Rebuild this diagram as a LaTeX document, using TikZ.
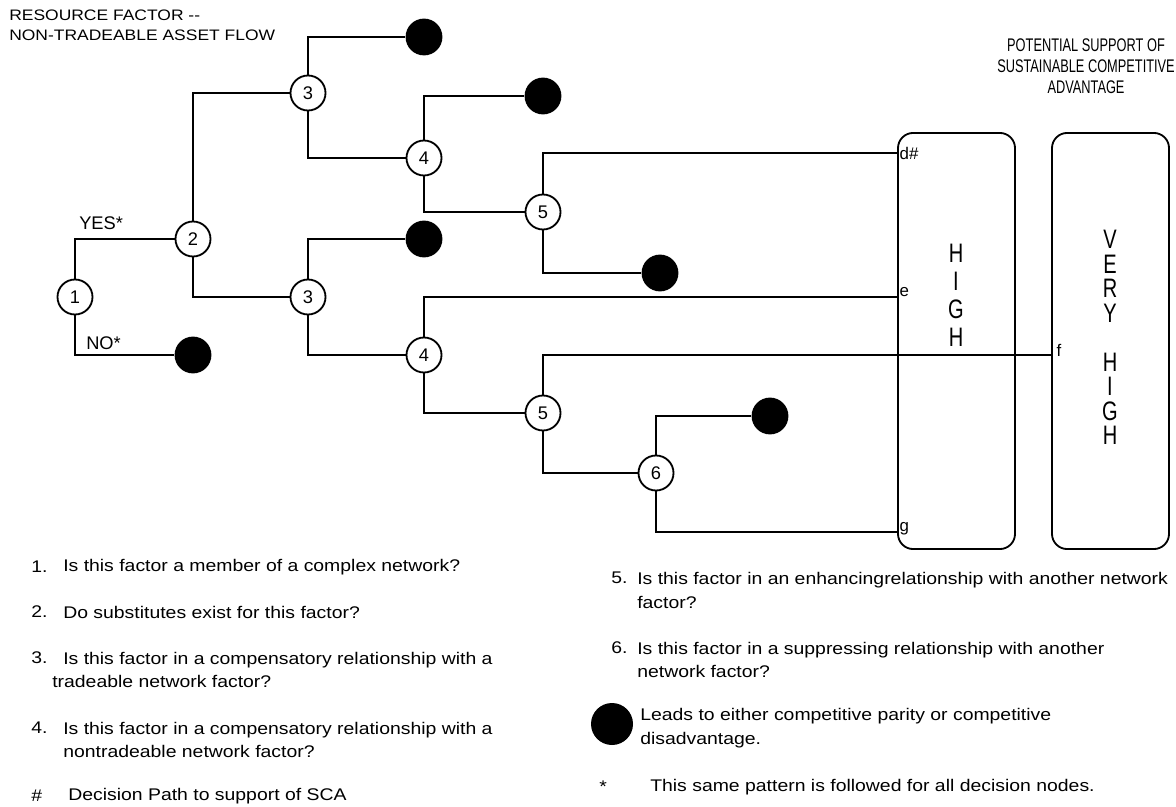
\documentclass[tikz,border=0pt]{standalone}
\usepackage{fontspec}
\setmainfont{Liberation Sans}
\newfontfamily\widefont[FakeStretch=1.15]{Liberation Sans}
\newfontfamily\narrowfont[FakeStretch=0.7]{Liberation Sans}
\newfontfamily\tallfont[FakeStretch=0.75]{Liberation Sans}

\tikzset{
	branch/.style={line width=1.3pt},
	qnode/.style={draw, circle, line width=1.3pt, fill=white, minimum size=0.875cm, inner sep=0pt, font=\fontsize{13}{13}\selectfont},
	endnode/.style={circle, fill=black, minimum size=0.92cm, inner sep=0pt},
	outbox/.style={draw, line width=1.3pt, rounded corners=0.38cm, minimum width=2.925cm, minimum height=10.4cm},
	tag/.style={anchor=west, inner sep=1pt, font=\fontsize{12}{12}\selectfont},
	qtext/.style={anchor=west, align=left, inner sep=0pt, font=\widefont\fontsize{12}{17}\selectfont},
}

\begin{document}
\begin{tikzpicture}[x=0.025cm, y=-0.025cm]
		\useasboundingbox (0,0) rectangle (1176,807);
		%%%%% START %%%%%
		
		\node[anchor=west, align=left, inner sep=0pt, font=\widefont\fontsize{10.8}{14.2}\selectfont] (title) at (9,25) {RESOURCE FACTOR --\\NON-TRADEABLE ASSET FLOW};
		\node[align=center, inner sep=0pt, font=\narrowfont\fontsize{13}{15}\selectfont] (header) at (1086,66) {POTENTIAL SUPPORT OF\\SUSTAINABLE COMPETITIVE\\ADVANTAGE};
		
		\node[outbox] (high) at (956.5,341) {};
		\node[outbox] (veryhigh) at (1110.5,341) {};
		\node[align=center, inner sep=0pt, font=\tallfont\fontsize{19}{19.9}\selectfont] (hightext) at (956,295) {H\\I\\G\\H};
		\node[align=center, inner sep=0pt, font=\tallfont\fontsize{19}{17.4}\selectfont] (veryhightext) at (1110,337.5) {V\\E\\R\\Y\\[0.6125cm]H\\I\\G\\H};
		
		\coordinate (pd) at (898,153);
		\coordinate (pe) at (898,297);
		\coordinate (pf) at (1052,355);
		\coordinate (pg) at (898,532);
		\node[tag] (dlab) at (pd) {d\#};
		\node[tag] (elab) at (898,292) {e};
		\node[tag] (flab) at (1055,350) {f};
		\node[tag] (glab) at (898,529) {g};
		
		\node[qnode] (n1) at (75,297) {1};
		\node[qnode] (n2) at (193,239) {2};
		\node[qnode] (n3a) at (308,93) {3};
		\node[qnode] (n3b) at (308,297) {3};
		\node[qnode] (n4a) at (424,158) {4};
		\node[qnode] (n4b) at (424,355) {4};
		\node[qnode] (n5a) at (543,212) {5};
		\node[qnode] (n5b) at (543,413) {5};
		\node[qnode] (n6) at (656,473) {6};
		
		\node[endnode] (x1) at (193,355) {};
		\node[endnode] (x3a) at (424,37) {};
		\node[endnode] (x3b) at (424,239) {};
		\node[endnode] (x4a) at (543,96) {};
		\node[endnode] (x5a) at (660,273) {};
		\node[endnode] (x6) at (770,416) {};
		
		\node[anchor=west, inner sep=0pt, font=\fontsize{13}{13}\selectfont] (yes) at (79,223) {YES*};
		\node[anchor=west, inner sep=0pt, font=\fontsize{13}{13}\selectfont] (no) at (86,343) {NO*};
		
		\draw[branch] (n1) |- (n2);
		\draw[branch] (n1) |- (x1);
		\draw[branch] (n2) |- (n3a);
		\draw[branch] (n2) |- (n3b);
		\draw[branch] (n3a) |- (x3a);
		\draw[branch] (n3a) |- (n4a);
		\draw[branch] (n3b) |- (x3b);
		\draw[branch] (n3b) |- (n4b);
		\draw[branch] (n4a) |- (x4a);
		\draw[branch] (n4a) |- (n5a);
		\draw[branch] (n4b) |- (pe);
		\draw[branch] (n4b) |- (n5b);
		\draw[branch] (n5a) |- (pd);
		\draw[branch] (n5a) |- (x5a);
		\draw[branch] (n5b) |- (pf);
		\draw[branch] (n5b) |- (n6);
		\draw[branch] (n6) |- (x6);
		\draw[branch] (n6) |- (pg);
		
		\node[qtext] (q1num) at (31,567) {1.};
		\node[qtext] (q1) at (63,567) {Is this factor a member of a complex network?};
		\node[qtext] (q2num) at (31,612) {2.};
		\node[qtext] (q2) at (63,612) {Do substitutes exist for this factor?};
		\node[qtext] (q3num) at (31,658) {3.};
		\node[qtext] (q3) at (52,670) {\hspace*{0.275cm}Is this factor in a compensatory relationship with a\\tradeable network factor?};
		\node[qtext] (q4num) at (31,728) {4.};
		\node[qtext] (q4) at (63,740) {Is this factor in a compensatory relationship with a\\nontradeable network factor?};
		\node[qtext] (hashmark) at (31,796) {\#};
		\node[qtext] (hashnote) at (68,796) {Decision Path to support of SCA};
		
		\node[qtext] (q5num) at (611,578) {5.};
		\node[qtext] (q5) at (637,590.5) {Is this factor in an enhancingrelationship with another network\\factor?};
		\node[qtext] (q6num) at (611,648) {6.};
		\node[qtext] (q6) at (637,660) {Is this factor in a suppressing relationship with another\\network factor?};
		\node[endnode, minimum size=1.05cm] (keydot) at (612,724) {};
		\node[qtext] (keynote) at (640,728) {Leads to either competitive parity or competitive\\disadvantage.};
		\node[qtext] (starmark) at (599,787) {*};
		\node[qtext] (starnote) at (650,787) {This same pattern is followed for all decision nodes.};
		
		%%%%% END %%%%%
	\end{tikzpicture}
\end{document}
